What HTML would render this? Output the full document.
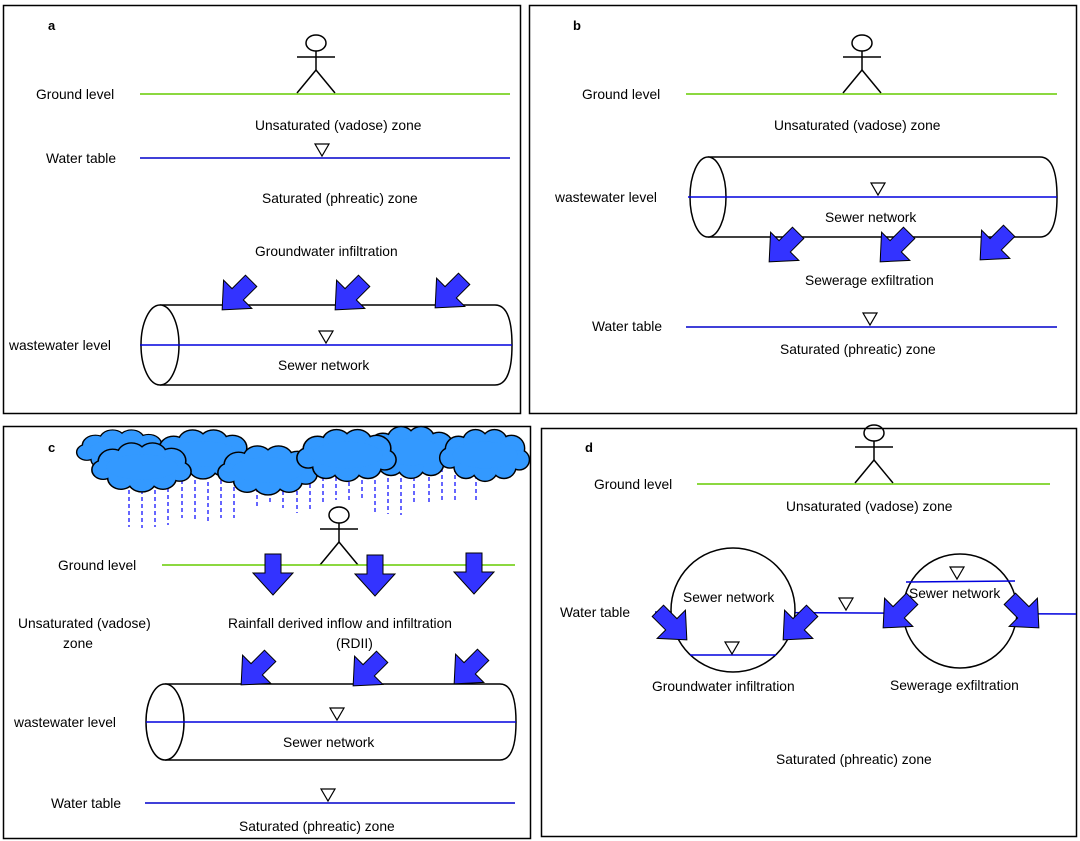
<!DOCTYPE html>
<html><head><meta charset="utf-8"><style>
body{margin:0;background:#fff;}
svg{display:block;font-family:"Liberation Sans",Arial,sans-serif;font-size:13.8px;}
</style></head><body>
<svg width="1080" height="841" viewBox="0 0 1080 841">
<defs>
<path id="ar" d="M-8,-20 L8,-20 L8,-1 L20,-1 L0,21 L-20,-1 L-8,-1 Z" fill="#3333ff" stroke="#000" stroke-width="1"/>
<path id="tri" d="M-7,-6 L7,-6 L0,6 Z" fill="#fff" stroke="#000" stroke-width="1.2"/>
<g id="man" fill="none" stroke="#000" stroke-width="1.5">
<ellipse cx="0" cy="-50" rx="10" ry="8"/>
<line x1="0" y1="-42" x2="0" y2="-23"/><line x1="-19" y1="-36" x2="19" y2="-36"/>
<line x1="0" y1="-23" x2="-19" y2="0"/><line x1="0" y1="-23" x2="19" y2="0"/>
</g>
<g id="cb">
<circle cx="-28" cy="-6" r="13"/><circle cx="-10" cy="-13" r="13"/><circle cx="10" cy="-13" r="13"/><circle cx="28" cy="-7" r="13"/>
<circle cx="36" cy="5" r="10"/><circle cx="20" cy="12" r="12"/><circle cx="0" cy="14" r="13"/><circle cx="-20" cy="12" r="12"/><circle cx="-37" cy="3" r="10"/>
<ellipse cx="0" cy="0" rx="34" ry="14"/>
</g>
<g id="cloud"><use href="#cb" stroke="#000" stroke-width="3" fill="#3399ff"/><use href="#cb" fill="#3399ff"/></g>
</defs>
<g fill="none" stroke="#000" stroke-width="1.5">
<rect x="3.5" y="5.5" width="517" height="408"/>
<rect x="529.5" y="5.5" width="547" height="408"/>
<rect x="3.5" y="426.5" width="527" height="412"/>
<rect x="541.5" y="428.5" width="535" height="408"/>
</g>
<g font-weight="bold" font-size="13"><text x="48" y="30">a</text><text x="573" y="30">b</text><text x="48" y="452">c</text><text x="585" y="452">d</text></g>

<!-- panel a -->
<use href="#man" x="316" y="93"/>
<line x1="140" y1="94" x2="510" y2="94" stroke="#66cc00" stroke-width="1.5"/>
<text x="36" y="99">Ground level</text>
<text x="255" y="130">Unsaturated (vadose) zone</text>
<text x="46" y="163">Water table</text>
<line x1="140" y1="158" x2="510" y2="158" stroke="#0000cc" stroke-width="1.5"/>
<use href="#tri" x="322" y="150"/>
<text x="262" y="203">Saturated (phreatic) zone</text>
<text x="255" y="256">Groundwater infiltration</text>
<path d="M160,305 L495,305 Q512,305 512,345 Q512,385 495,385 L160,385" fill="#fff" stroke="#000" stroke-width="1.5"/>
<ellipse cx="160" cy="345" rx="19" ry="40" fill="#fff" stroke="#000" stroke-width="1.5"/>
<line x1="140" y1="345" x2="512" y2="345" stroke="#0000dd" stroke-width="1.5"/>
<use href="#tri" x="326" y="337"/>
<text x="9" y="350">wastewater level</text>
<text x="278" y="370">Sewer network</text>
<g transform="translate(237,295) rotate(45)"><use href="#ar"/></g>
<g transform="translate(350,295) rotate(45)"><use href="#ar"/></g>
<g transform="translate(450,293) rotate(45)"><use href="#ar"/></g>

<!-- panel b -->
<use href="#man" x="862" y="93"/>
<line x1="686" y1="94" x2="1057" y2="94" stroke="#66cc00" stroke-width="1.5"/>
<text x="582" y="99">Ground level</text>
<text x="774" y="130">Unsaturated (vadose) zone</text>
<path d="M708,157 L1040,157 Q1057,157 1057,197 Q1057,237 1040,237 L708,237" fill="#fff" stroke="#000" stroke-width="1.5"/>
<ellipse cx="708" cy="197" rx="18" ry="40" fill="#fff" stroke="#000" stroke-width="1.5"/>
<line x1="688" y1="197" x2="1057" y2="197" stroke="#0000dd" stroke-width="1.5"/>
<use href="#tri" x="878" y="189"/>
<text x="555" y="202">wastewater level</text>
<text x="825" y="222">Sewer network</text>
<g transform="translate(784,247) rotate(45)"><use href="#ar"/></g>
<g transform="translate(895,247) rotate(45)"><use href="#ar"/></g>
<g transform="translate(995,245) rotate(45)"><use href="#ar"/></g>
<text x="805" y="285">Sewerage exfiltration</text>
<text x="592" y="331">Water table</text>
<line x1="686" y1="327" x2="1057" y2="327" stroke="#0000cc" stroke-width="1.5"/>
<use href="#tri" x="870" y="319"/>
<text x="780" y="354">Saturated (phreatic) zone</text>

<!-- panel c -->
<g stroke="#3333ff" stroke-width="1.5" stroke-dasharray="4,3">
<line x1="129" y1="490" x2="129" y2="527"/><line x1="142" y1="490" x2="142" y2="528"/><line x1="155" y1="490" x2="155" y2="527"/><line x1="168" y1="488" x2="168" y2="525"/>
<line x1="182" y1="480" x2="182" y2="518"/><line x1="195" y1="480" x2="195" y2="520"/><line x1="208" y1="482" x2="208" y2="522"/><line x1="221" y1="480" x2="221" y2="518"/>
<line x1="234" y1="480" x2="234" y2="518"/><line x1="257" y1="474" x2="257" y2="508"/><line x1="270" y1="470" x2="270" y2="505"/><line x1="283" y1="470" x2="283" y2="508"/>
<line x1="297" y1="470" x2="297" y2="513"/><line x1="310" y1="470" x2="310" y2="512"/><line x1="323" y1="470" x2="323" y2="505"/><line x1="336" y1="470" x2="336" y2="500"/>
<line x1="349" y1="468" x2="349" y2="502"/><line x1="362" y1="466" x2="362" y2="500"/><line x1="375" y1="480" x2="375" y2="515"/><line x1="388" y1="478" x2="388" y2="514"/>
<line x1="401" y1="478" x2="401" y2="515"/><line x1="414" y1="470" x2="414" y2="505"/><line x1="429" y1="470" x2="429" y2="504"/><line x1="442" y1="468" x2="442" y2="503"/><line x1="455" y1="468" x2="455" y2="503"/><line x1="476" y1="468" x2="476" y2="503"/>
</g>
<use href="#cloud" transform="translate(122,450) scale(0.95,0.75)"/>
<use href="#cloud" transform="translate(203,454) scale(1.05,0.9)"/>
<use href="#cloud" transform="translate(142,467) scale(1.05,0.9)"/>
<use href="#cloud" transform="translate(411,452) scale(1.0,0.95)"/>
<use href="#cloud" transform="translate(485,455) scale(0.95,0.95)"/>
<use href="#cloud" transform="translate(268,470) scale(1.05,0.9)"/>
<use href="#cloud" transform="translate(347,455) scale(1.05,0.95)"/>
<use href="#man" x="339" y="565"/>
<line x1="162" y1="565" x2="515" y2="565" stroke="#66cc00" stroke-width="1.5"/>
<text x="58" y="570">Ground level</text>
<use href="#ar" x="273" y="574"/>
<use href="#ar" x="375" y="575"/>
<use href="#ar" x="474" y="573"/>
<text x="18" y="628">Unsaturated (vadose)</text>
<text x="63" y="648">zone</text>
<text x="228" y="628">Rainfall derived inflow and infiltration</text>
<text x="336" y="648">(RDII)</text>
<path d="M165,684 L500,684 Q516,684 516,722 Q516,760 500,760 L165,760" fill="#fff" stroke="#000" stroke-width="1.5"/>
<ellipse cx="165" cy="722" rx="19" ry="38" fill="#fff" stroke="#000" stroke-width="1.5"/>
<line x1="146" y1="722" x2="516" y2="722" stroke="#0000dd" stroke-width="1.5"/>
<use href="#tri" x="337" y="714"/>
<text x="14" y="727">wastewater level</text>
<text x="283" y="747">Sewer network</text>
<g transform="translate(256,670) rotate(45)"><use href="#ar"/></g>
<g transform="translate(368,671) rotate(45)"><use href="#ar"/></g>
<g transform="translate(469,669) rotate(45)"><use href="#ar"/></g>
<text x="51" y="808">Water table</text>
<line x1="145" y1="803" x2="515" y2="803" stroke="#0000cc" stroke-width="1.5"/>
<use href="#tri" x="328" y="795"/>
<text x="239" y="831">Saturated (phreatic) zone</text>

<!-- panel d -->
<use href="#man" x="874" y="483"/>
<line x1="697" y1="484" x2="1050" y2="484" stroke="#66cc00" stroke-width="1.5"/>
<text x="594" y="489">Ground level</text>
<text x="786" y="511">Unsaturated (vadose) zone</text>
<line x1="655" y1="612" x2="1076" y2="614" stroke="#0000dd" stroke-width="1.5"/>
<circle cx="733" cy="610" r="62" fill="#fff" stroke="#000" stroke-width="1.5"/>
<circle cx="960" cy="611" r="57" fill="#fff" stroke="#000" stroke-width="1.5"/>
<line x1="690" y1="655" x2="776" y2="655" stroke="#0000dd" stroke-width="1.5"/>
<line x1="906" y1="582" x2="1015" y2="581" stroke="#0000dd" stroke-width="1.5"/>
<use href="#tri" x="732" y="648"/>
<use href="#tri" x="846" y="604"/>
<use href="#tri" x="957" y="573"/>
<text x="560" y="617">Water table</text>
<text x="683" y="602">Sewer network</text>
<text x="909" y="598">Sewer network</text>
<g transform="translate(672,625) rotate(-45)"><use href="#ar"/></g>
<g transform="translate(798,625) rotate(45)"><use href="#ar"/></g>
<g transform="translate(898,613) rotate(45)"><use href="#ar"/></g>
<g transform="translate(1024,613) rotate(-45)"><use href="#ar"/></g>
<text x="652" y="691">Groundwater infiltration</text>
<text x="890" y="690">Sewerage exfiltration</text>
<text x="776" y="764">Saturated (phreatic) zone</text>
</svg>
</body></html>
